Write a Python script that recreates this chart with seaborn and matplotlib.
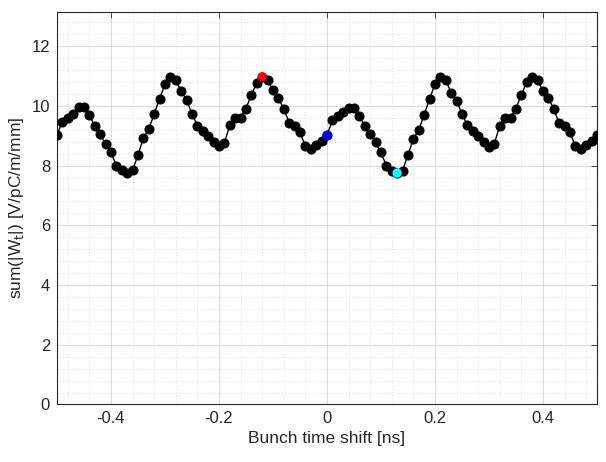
"""
Bunch time shift scan: summed wake (MATLAB-like look)
"""

import numpy as np
import pandas as pd
import matplotlib.pyplot as plt
from matplotlib.ticker import MultipleLocator
import seaborn as sns

sns.set_style("white")
plt.rcParams["font.family"] = ["Liberation Sans", "DejaVu Sans"]

time_shift = [round(-0.5 + 0.01 * i, 2) for i in range(101)]
wake_sum = [
    9.03, 9.47, 9.60, 9.72, 9.95, 9.95, 9.69, 9.32, 9.05, 8.71,
    8.44, 8.00, 7.85, 7.75, 7.84, 8.35, 8.92, 9.23, 9.72, 10.24,
    10.72, 10.97, 10.87, 10.49, 10.20, 9.74, 9.34, 9.17, 9.00, 8.78,
    8.64, 8.75, 9.35, 9.60, 9.60, 9.91, 10.37, 10.76, 10.97, 10.85,
    10.53, 10.25, 9.91, 9.43, 9.34, 9.11, 8.66, 8.56, 8.69, 8.83,
    9.01, 9.51, 9.66, 9.79, 9.94, 9.94, 9.66, 9.32, 9.05, 8.78,
    8.44, 8.00, 7.83, 7.75, 7.83, 8.35, 8.89, 9.20, 9.69, 10.23,
    10.72, 10.97, 10.87, 10.43, 10.17, 9.74, 9.35, 9.17, 9.00, 8.80,
    8.62, 8.73, 9.34, 9.58, 9.60, 9.91, 10.37, 10.79, 10.97, 10.85,
    10.51, 10.25, 9.91, 9.41, 9.34, 9.11, 8.66, 8.56, 8.69, 8.83,
    9.01,
]

# highlighted scan positions
mark_shift = [-0.12, 0.0, 0.13]
mark_value = [10.97, 9.01, 7.75]
mark_color = ["red", "blue", "cyan"]

df = pd.DataFrame({"shift": time_shift, "wake": wake_sum})

fig = plt.figure(figsize=(6.06, 4.62), dpi=100)
ax = fig.add_axes([0.094, 0.1245, 0.891, 0.85])

sns.lineplot(
    data=df, x="shift", y="wake", ax=ax,
    color="black", linewidth=1.0,
    marker="o", markersize=6.5, markeredgecolor="black",
    markerfacecolor="black", zorder=3
)
sns.scatterplot(
    x=mark_shift, y=mark_value, hue=mark_shift,
    palette=mark_color, s=45, edgecolor="none",
    legend=False, ax=ax, zorder=4
)

ax.set_xlim(-0.5, 0.5)
ax.set_ylim(0, 13.15)
ax.set_xticks([-0.4, -0.2, 0, 0.2, 0.4])
ax.set_xticklabels(["-0.4", "-0.2", "0", "0.2", "0.4"])
ax.set_yticks(range(0, 13, 2))
ax.xaxis.set_minor_locator(MultipleLocator(0.04))
ax.yaxis.set_minor_locator(MultipleLocator(0.4))

ax.grid(which="major", color="#dcdcdc", linewidth=0.8)
ax.grid(which="minor", color="#d4d4d4", linewidth=0.6, linestyle=(0, (1, 2.5)))
ax.set_axisbelow(True)

for side in ax.spines.values():
    side.set_color("#262626")
    side.set_linewidth(0.8)

ax.tick_params(which="major", direction="in", length=4, width=0.6,
               top=True, right=True, colors="#262626", labelsize=12,
               labelcolor="#262626", pad=5)
ax.tick_params(which="minor", length=0, top=True, right=True)

ax.set_xlabel("Bunch time shift [ns]", fontsize=12.5, color="#262626", labelpad=3)
ax.set_ylabel(r"sum(|W$_{\rm t}$|) [V/pC/m/mm]", fontsize=12.5,
              color="#262626", labelpad=4)

fig.savefig("out.png", dpi=100)
plt.close(fig)
